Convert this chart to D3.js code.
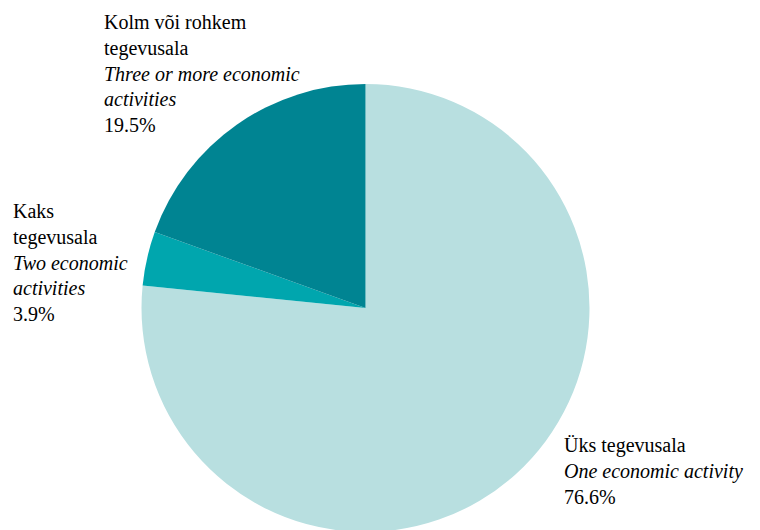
<!DOCTYPE html>
<html><head><meta charset="utf-8">
<script src="https://cdn.jsdelivr.net/npm/d3@7"></script>
<style>body{margin:0;background:#fff}svg{display:block}</style>
</head><body>
<script>
const categories = ["Üks tegevusala", "Kaks tegevusala", "Kolm või rohkem tegevusala"];
const categoriesEn = ["One economic activity", "Two economic activities", "Three or more economic activities"];
const values = [76.6, 3.9, 19.5];
const colors = ["#b8dfe0", "#00a6ae", "#008492"];
const labelLinesEt = [["Üks tegevusala"], ["Kaks", "tegevusala"], ["Kolm või rohkem", "tegevusala"]];
const labelLinesEn = [["One economic activity"], ["Two economic", "activities"], ["Three or more economic", "activities"]];

const W = 760, H = 530;
const svg = d3.select("body").append("svg").attr("width", W).attr("height", H);
const cx = 365.5, cy = 308, R = 224;
const data = values.map((v, i) => ({v, i}));
const pie = d3.pie().value(d => d.v).sort(null);
const arc = d3.arc().innerRadius(0).outerRadius(R);
const g = svg.append("g").attr("transform", `translate(${cx},${cy})`);
g.selectAll("path").data(pie(data)).enter().append("path")
  .attr("d", arc).attr("fill", d => colors[d.data.i]);

const labelPos = [[564, 452], [13, 218], [104, 29]];
const lh = 25.8;
data.forEach((d, i) => {
  const lines = [];
  labelLinesEt[i].forEach(s => lines.push({s, it: false}));
  labelLinesEn[i].forEach(s => lines.push({s, it: true}));
  lines.push({s: d3.format(".1f")(d.v) + "%", it: false});
  lines.forEach((l, k) => {
    svg.append("text").attr("x", labelPos[i][0]).attr("y", labelPos[i][1] + k * lh)
      .style("font-family", '"Liberation Serif", monospace')
      .style("font-size", "20px")
      .style("font-style", l.it ? "italic" : "normal")
      .text(l.s);
  });
});
</script>
</body></html>
